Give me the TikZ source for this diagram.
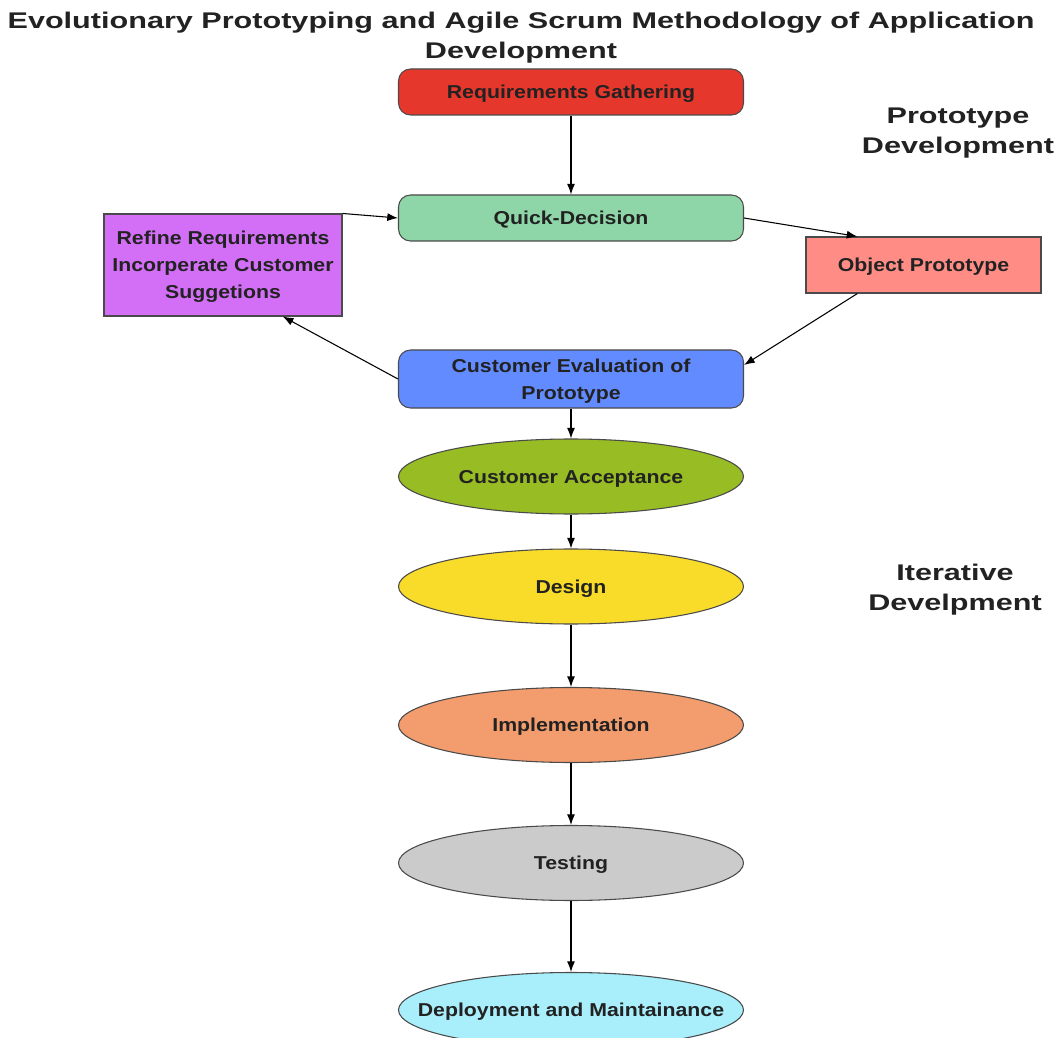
\documentclass[tikz,border=0pt]{standalone}
\usepackage{fontspec}
\setmainfont{Liberation Sans}
\newfontfamily\titlefont[FakeStretch=1.35]{Liberation Sans}
\newfontfamily\boxfont[FakeStretch=1.14]{Liberation Sans}
\usetikzlibrary{shapes.geometric,arrows.meta,calc}
\definecolor{cred}{HTML}{E5372B}
\definecolor{cgreen}{HTML}{8ED6A7}
\definecolor{cpurple}{HTML}{D36FF6}
\definecolor{csalmon}{HTML}{FF8D85}
\definecolor{cblue}{HTML}{628BFF}
\definecolor{colive}{HTML}{97BC24}
\definecolor{cyellow}{HTML}{F9DC2A}
\definecolor{corange}{HTML}{F39C6D}
\definecolor{cgray}{HTML}{CBCBCB}
\definecolor{ccyan}{HTML}{A8EEFB}
\definecolor{cborder}{HTML}{4A4A4A}
\definecolor{ctext}{HTML}{222222}
\tikzset{
  base/.style={draw=cborder, line width=0.8pt, text=ctext, align=center, inner sep=0pt, text depth=0pt,
    font=\boxfont\bfseries\fontsize{14}{20.25}\selectfont},
  rbox/.style={base, rounded corners=9pt, minimum width=258.75pt, minimum height=34.5pt},
  rbox2/.style={base, rounded corners=9pt, minimum width=258.75pt, minimum height=43.5pt},
  sbox/.style={base},
  ell/.style={base, ellipse, minimum width=258.75pt, minimum height=56.25pt},
  conn/.style={draw=black, line width=0.8pt, -{Latex[length=8pt,width=6pt]}},
  ttl/.style={text=ctext, align=center, font=\titlefont\bfseries\fontsize{17}{22.5}\selectfont}
}
\begin{document}
\begin{tikzpicture}[x=0.75pt,y=-0.75pt]
\path[use as bounding box] (0,0) rectangle (1058,1038);
\clip (0,0) rectangle (1058,1038);
\node[ttl] (title) at (521,38) {Evolutionary Prototyping and Agile Scrum Methodology of Application\\Development};
\node[ttl] (lblproto) at (958,133) {Prototype\\Development};
\node[ttl] (lbliter) at (955,590) {Iterative\\Develpment};

\node[rbox, fill=cred] (req) at (571,92) {Requirements Gathering};
\node[rbox, fill=cgreen] (qd) at (571,218) {Quick-Decision};
\node[sbox, fill=cpurple, minimum width=178.5pt, minimum height=76.5pt] (ref) at (223,265) {Refine Requirements\\Incorperate Customer\\Suggetions};
\node[sbox, fill=csalmon, minimum width=176.25pt, minimum height=42pt] (op) at (923.5,265) {Object Prototype};
\node[rbox2, fill=cblue] (ce) at (571,379) {Customer Evaluation of\\Prototype};
\node[ell, fill=colive] (ca) at (571,476.5) {Customer Acceptance};
\node[ell, fill=cyellow] (des) at (571,586.5) {Design};
\node[ell, fill=corange] (imp) at (571,725) {Implementation};
\node[ell, fill=cgray] (tst) at (571,863) {Testing};
\node[ell, fill=ccyan] (dep) at (571,1010) {\makebox[0pt]{Deployment and Maintainance}};

\draw[conn] (req) -- (qd);
\draw[conn] (ref.north east) -- (qd.west);
\draw[conn] (qd.east) -- ($(op.north west)!0.22!(op.north east)$);
\draw[conn] ($(op.south west)!0.22!(op.south east)$) -- ([yshift=10.5pt]ce.east);
\draw[conn] (ce.west) -- ($(ref.south west)!0.75!(ref.south east)$);
\draw[conn] (ce) -- (ca);
\draw[conn] (ca) -- (des);
\draw[conn] (des) -- (imp);
\draw[conn] (imp) -- (tst);
\draw[conn] (tst) -- (dep);
\end{tikzpicture}
\end{document}
